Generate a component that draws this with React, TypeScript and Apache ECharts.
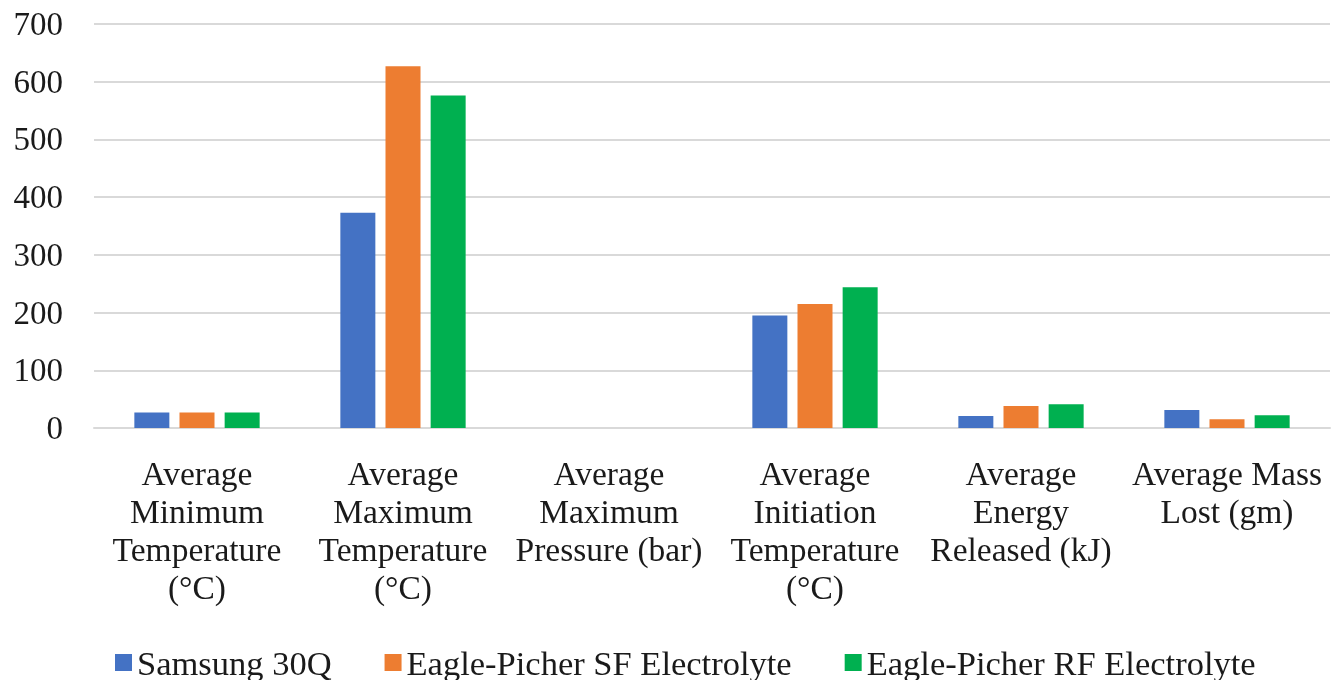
import React, { useEffect, useRef } from "react";
import * as echarts from "echarts";

const categories = [
  "Average\nMinimum\nTemperature\n(°C)",
  "Average\nMaximum\nTemperature\n(°C)",
  "Average\nMaximum\nPressure (bar)",
  "Average\nInitiation\nTemperature\n(°C)",
  "Average\nEnergy\nReleased (kJ)",
  "Average Mass\nLost (gm)",
];
const seriesNames = ["Samsung 30Q", "Eagle-Picher SF Electrolyte", "Eagle-Picher RF Electrolyte"];
const samsung30Q = [27, 373, 0, 195, 21, 31];
const eaglePicherSF = [27, 627, 0, 215, 38, 15];
const eaglePicherRF = [27, 576, 0, 244, 41, 22];
const colors = ["#4472C4", "#ED7D31", "#00B050"];
const yTicks = { min: 0, max: 700, interval: 100 };

const FONT = "Liberation Serif";
const TXT = "#1a1a1a";

export default function App() {
  const ref = useRef<HTMLDivElement>(null);
  useEffect(() => {
    if (!ref.current) return;
    const chart = echarts.init(ref.current, undefined, { renderer: "svg" });
    const data = [samsung30Q, eaglePicherSF, eaglePicherRF];
    const wrapRich = (s: string) =>
      s
        .split("\n")
        .map((line) => "{t|" + line + "}")
        .join("\n");
    chart.setOption({
      animation: false,
      textStyle: { fontFamily: FONT },
      grid: { left: 94, right: 1, top: 24, bottom: 252, containLabel: false },
      legend: {
        left: 110,
        top: 640,
        itemWidth: 17,
        itemHeight: 17,
        itemGap: 53,
        icon: "rect",
        formatter: (name: string) => "{t|" + name + "}",
        textStyle: {
          fontFamily: FONT,
          fontSize: 34.5,
          lineHeight: 30,
          color: TXT,
          rich: { t: { fontFamily: FONT, fontSize: 34.5, lineHeight: 30, color: TXT } },
        },
        data: seriesNames,
      },
      xAxis: {
        type: "category",
        data: categories,
        axisLine: { lineStyle: { color: "#d9d9d9", width: 2 } },
        axisTick: { show: false },
        axisLabel: {
          interval: 0,
          margin: 26,
          fontFamily: FONT,
          fontSize: 33.5,
          lineHeight: 38,
          color: TXT,
          formatter: (v: string) => wrapRich(v),
          rich: { t: { fontFamily: FONT, fontSize: 33.5, lineHeight: 38, color: TXT } },
        },
      },
      yAxis: {
        type: "value",
        min: yTicks.min,
        max: yTicks.max,
        interval: yTicks.interval,
        axisLine: { show: false },
        axisTick: { show: false },
        splitLine: { lineStyle: { color: "#d9d9d9", width: 2 } },
        axisLabel: {
          margin: 31,
          fontFamily: FONT,
          fontSize: 33,
          color: TXT,
          formatter: (v: number) => "{t|" + v + "}",
          rich: { t: { fontFamily: FONT, fontSize: 33, color: TXT } },
        },
      },
      series: seriesNames.map((name, i) => ({
        name,
        type: "bar",
        data: data[i],
        barWidth: 35,
        barGap: "29%",
        itemStyle: { color: colors[i] },
      })),
    });
    return () => chart.dispose();
  }, []);
  return <div ref={ref} style={{ position: "fixed", left: 0, top: 0, width: 1331, height: 680 }} />;
}
